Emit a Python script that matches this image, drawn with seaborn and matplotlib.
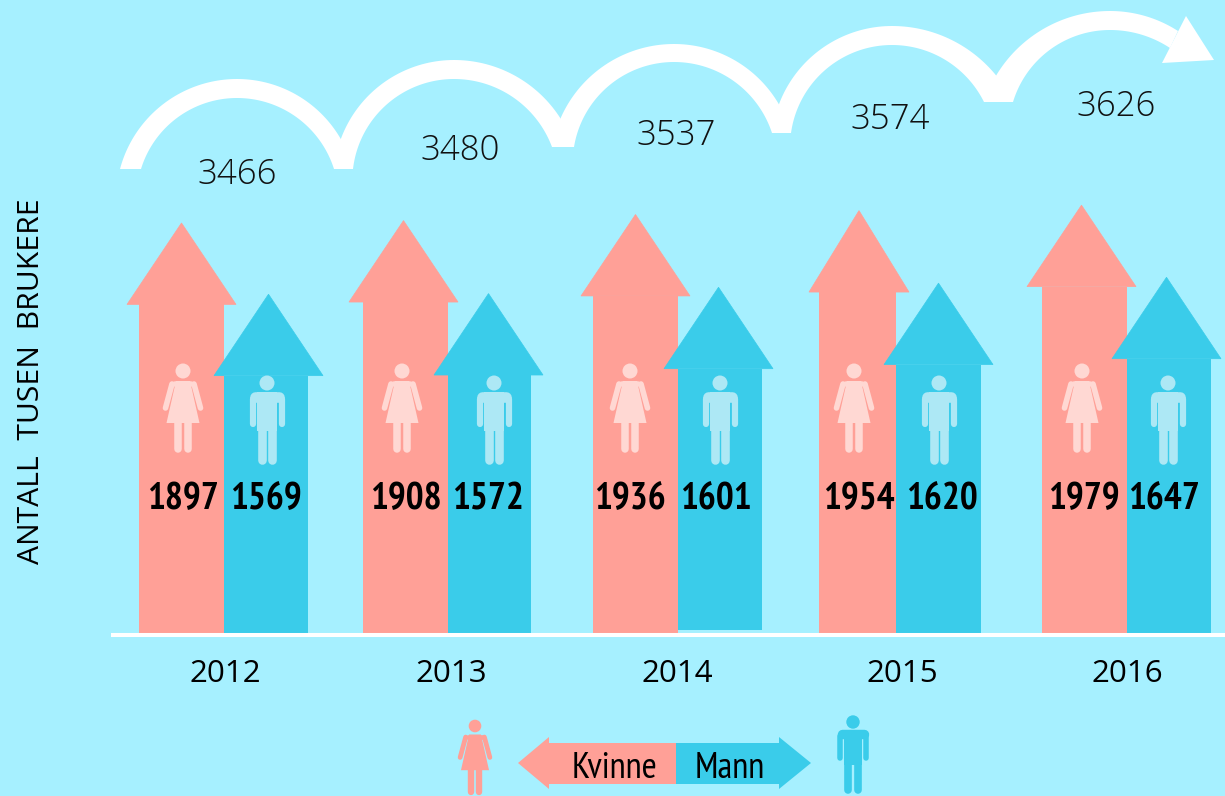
import numpy as np
import pandas as pd
import matplotlib
matplotlib.use('Agg')
import matplotlib.pyplot as plt
from matplotlib.patches import Polygon, Circle
import seaborn as sns

years = ['2012', '2013', '2014', '2015', '2016']
kvinne = [1897, 1908, 1936, 1954, 1979]
mann = [1569, 1572, 1601, 1620, 1647]
totalt = [3466, 3480, 3537, 3574, 3626]

# layout in pixels of the picture
BG = '#A6F0FF'
PINK = '#FFA097'
BLUE = '#3ACCEA'
PINK_LIGHT = '#FFD8D3'
BLUE_LIGHT = '#ADE8F5'
W, H = 1225, 796
BASE = 635
PX_PER_UNIT = 0.2172
HEAD_H = 375
BAR_W = 85
group_x = [224, 448, 678, 896, 1127]
left_x = [139, 363, 593, 819, 1042]
right_x = [308, 531, 762, 981, 1211]
tip_kv_x = [181.5, 403.5, 635.5, 859, 1081.5]
tip_ma_x = [268.5, 488.5, 718.5, 938.5, 1166.5]
head_kv_half = [54.5, 54.5, 54.5, 50, 54.5]
HEAD_MA_HALF = 54.5
year_x = [225, 451, 677, 902, 1127]
total_xy = [(237, 175), (460, 151), (676, 136), (890, 120), (1116, 107)]
label_kv_x = [182.5, 406, 630, 859, 1084]
label_ma_x = [265.5, 488, 716, 942, 1164]
icon_kv_x = [183, 402, 630, 854, 1082]
icon_ma_x = [267, 494, 720, 939, 1168]
arcs = [
    (120, 141, 169, 237, 79, 98, 334, 353, 169),
    (334, 353, 169, 454, 60, 79, 552, 574, 147),
    (552, 574, 147, 674, 44, 62, 772, 791, 133),
    (772, 791, 133, 892, 26, 45, 984, 1013, 102),
]

NARROW = ['PT Sans Narrow', 'Fira Sans Condensed', 'Barlow Condensed', 'Roboto Condensed', 'Open Sans']

sns.set_theme(style='white')
plt.rcParams['font.family'] = ['Open Sans', 'DejaVu Sans']

df = pd.DataFrame({
    'x': group_x * 2,
    'kjonn': ['Kvinne'] * 5 + ['Mann'] * 5,
    'verdi': kvinne + mann,
})
df['skaft'] = df['verdi'] - HEAD_H

fig = plt.figure(figsize=(W / 100, H / 100), dpi=100, facecolor=BG)
ax = fig.add_axes([0, (H - BASE) / H, 1, BASE / H])
ax.patch.set_alpha(0)

sns.barplot(data=df, x='x', y='skaft', hue='kjonn', hue_order=['Kvinne', 'Mann'],
            palette={'Kvinne': PINK, 'Mann': BLUE}, native_scale=True,
            width=2 * BAR_W / np.diff(sorted(group_x)).min(), gap=0, saturation=1,
            linewidth=0, legend=False, errorbar=None, ax=ax)

ax.set_xlim(0, W)
ax.set_ylim(0, BASE / PX_PER_UNIT)

# the shafts are not evenly spaced in the picture
bars = ax.patches
for i in range(5):
    bars[i].set_x(left_x[i])
    bars[i].set_width(group_x[i] - left_x[i])
    bars[i + 5].set_x(group_x[i])
    bars[i + 5].set_width(right_x[i] - group_x[i])
# 2014 mann stands a little above the base line
lift = 5 / PX_PER_UNIT
bars[7].set_y(lift)
bars[7].set_height(bars[7].get_height() - lift)

# arrow heads on top of the bars
for i in range(5):
    for val, xc, half, col in [(kvinne[i], tip_kv_x[i], head_kv_half[i], PINK),
                               (mann[i], tip_ma_x[i], HEAD_MA_HALF, BLUE)]:
        ax.add_patch(Polygon([(xc - half, val - HEAD_H), (xc + half, val - HEAD_H), (xc, val)],
                             closed=True, fc=col, ec=col, lw=0.5))

sns.despine(ax=ax, left=True)
ax.spines['bottom'].set_color('white')
ax.spines['bottom'].set_linewidth(2.9)
ax.spines['bottom'].set_bounds(113, W)
ax.set_xticks(year_x, years)
ax.tick_params(axis='x', length=0, pad=17, labelsize=22.5, labelcolor='black')
ax.set_yticks([])
ax.set_xlabel('')
ax.set_ylabel('ANTALL  TUSEN  BRUKERE', fontsize=21.7, color='black')
ax.yaxis.set_label_coords(46 / W, (BASE - 381) / BASE)

# overlay in pixel coordinates for the decoration
ov = fig.add_axes([0, 0, 1, 1])
ov.set_xlim(0, W)
ov.set_ylim(H, 0)
ov.axis('off')
ov.patch.set_alpha(0)


def side(xf, yf, tx, ty, n=50):
    # circle piece from the top of an arc (tx, ty) down to its foot (xf, yf)
    dx = abs(tx - xf)
    h = yf - ty
    r = (dx ** 2 + h ** 2) / (2 * h)
    th = np.linspace(0, np.arctan2(dx, r - h), n)
    sg = 1 if xf > tx else -1
    return np.c_[tx + sg * r * np.sin(th), ty + r * (1 - np.cos(th))]


def arc_band(ol, il, yl, tx, to, ti, ir, or_, yr):
    return np.vstack([side(ol, yl, tx, to)[::-1], side(or_, yr, tx, to),
                      side(ir, yr, tx, ti)[::-1], side(il, yl, tx, ti)])


for a in arcs:
    ov.add_patch(Polygon(arc_band(*a), closed=True, fc='white', ec='none'))

# last arc ends in an arrow
ov.add_patch(Polygon(np.vstack([side(984, 102, 1110, 11)[::-1], side(1178, 31, 1110, 11),
                                side(1170, 48, 1110, 30)[::-1], side(1013, 102, 1110, 30)]),
                     closed=True, fc='white', ec='none'))
ov.add_patch(Polygon([(1186, 16), (1214, 60), (1162, 63)], closed=True, fc='white', ec='none'))


def line(xs, ys, col, w):
    ov.plot(xs, ys, color=col, lw=w * 0.72, solid_capstyle='round')


def woman(cx, cy, col, s=1.0, r=7.5):
    ov.add_patch(Circle((cx, cy), r, fc=col, ec='none'))
    ov.add_patch(Polygon([(cx - 7 * s, cy + 10 * s), (cx + 7 * s, cy + 10 * s),
                          (cx + 16.5 * s, cy + 52 * s), (cx - 16.5 * s, cy + 52 * s)],
                         closed=True, fc=col, ec='none'))
    line([cx - 8 * s, cx + 8 * s], [cy + 12.5 * s] * 2, col, 5.5 * s)
    for sg in (-1, 1):
        line([cx + sg * 11 * s, cx + sg * 17.5 * s], [cy + 13 * s, cy + 37 * s], col, 5.6 * s)
        line([cx + sg * 4.6 * s] * 2, [cy + 50 * s, cy + 77.5 * s], col, 7.5 * s)


def man(cx, cy, col, s=1.0, r=7.5):
    ov.add_patch(Circle((cx, cy), r, fc=col, ec='none'))
    ov.add_patch(Polygon([(cx - 9.7 * s, cy + 9 * s), (cx + 9.7 * s, cy + 9 * s),
                          (cx + 9.7 * s, cy + 48 * s), (cx - 9.7 * s, cy + 48 * s)],
                         closed=True, fc=col, ec='none'))
    line([cx - 12 * s, cx + 12 * s], [cy + 14 * s] * 2, col, 10.6 * s)
    for sg in (-1, 1):
        line([cx + sg * 14.5 * s] * 2, [cy + 16 * s, cy + 41 * s], col, 6.2 * s)
        line([cx + sg * 5.2 * s] * 2, [cy + 46 * s, cy + 76.5 * s], col, 8.6 * s)


for i in range(5):
    woman(icon_kv_x[i], 371, PINK_LIGHT)
    man(icon_ma_x[i], 383, BLUE_LIGHT)
    ov.text(label_kv_x[i], 500, str(kvinne[i]), family=NARROW, weight='bold', fontsize=27,
            ha='center', va='center', color='black')
    ov.text(label_ma_x[i], 500, str(mann[i]), family=NARROW, weight='bold', fontsize=27,
            ha='center', va='center', color='black')
    ov.text(total_xy[i][0], total_xy[i][1], str(totalt[i]), fontsize=25, weight='light',
            ha='center', va='center', color='#111111')

# legend at the bottom
ov.add_patch(Polygon([(676, 743), (549, 743), (549, 737), (518, 763), (549, 789), (549, 784), (676, 784)],
                     closed=True, fc=PINK, ec='none'))
ov.add_patch(Polygon([(676, 743), (779, 743), (779, 737), (811, 763), (779, 789), (779, 784), (676, 784)],
                     closed=True, fc=BLUE, ec='none'))
ov.text(615, 768, 'Kvinne', family=NARROW, fontsize=26.5, ha='center', va='center', color='black')
ov.text(730, 768, 'Mann', family=NARROW, fontsize=26.5, ha='center', va='center', color='black')
woman(475, 726, PINK, s=0.85, r=6.3)
man(853, 722, BLUE, s=0.89, r=6.7)

fig.savefig('out.png', dpi=100, facecolor=BG)
